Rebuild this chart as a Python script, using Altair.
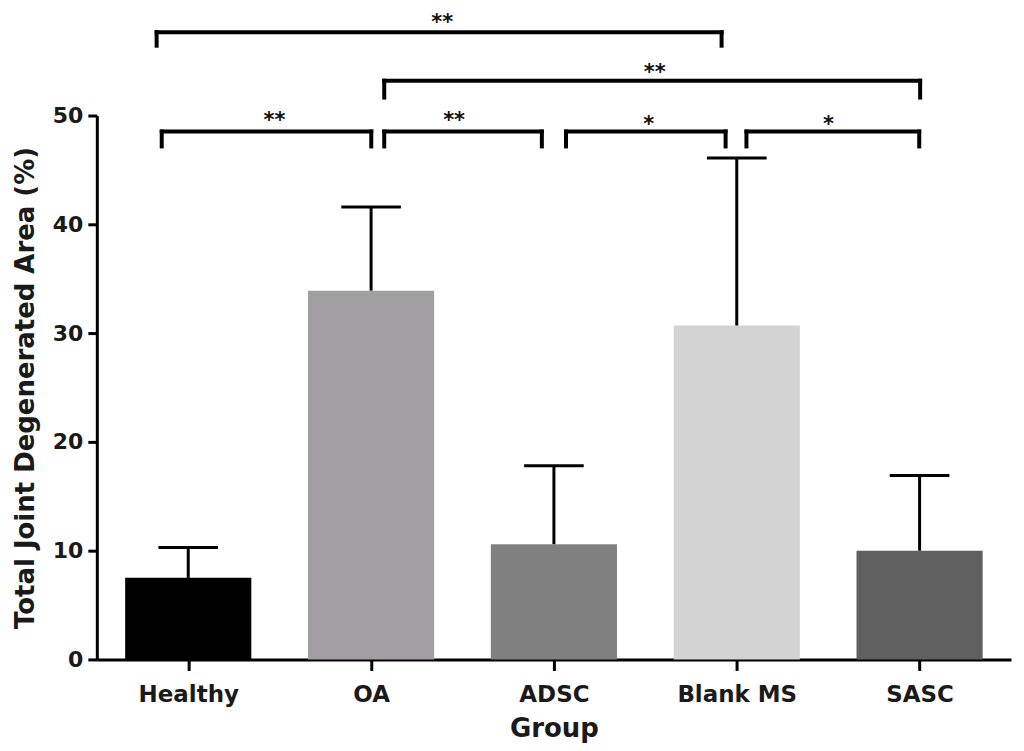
import altair as alt
import pandas as pd

groups = ["Healthy", "OA", "ADSC", "Blank MS", "SASC"]
means = [7.5, 33.9, 10.6, 30.7, 10.0]
err_top = [10.3, 41.6, 17.8, 46.1, 16.9]
colors = ["#000000", "#a29ea3", "#808080", "#d3d3d3", "#606060"]

# significance brackets: start, end (in group-axis units), level, tick bottom
br_x1 = [0.355, 1.572, 2.566, 3.553, 0.327, 1.572]
br_x2 = [1.501, 2.434, 3.439, 4.498, 3.417, 4.503]
br_level = [48.53, 48.53, 48.53, 48.53, 57.66, 53.2]
br_bottom = [47.16, 47.16, 47.16, 47.16, 56.42, 51.65]
br_label = ["**", "**", "*", "*", "**", "**"]
lab_x = [0.972, 1.954, 3.019, 4.001, 1.889, 3.051]
lab_y = [50.0, 50.0, 49.63, 49.63, 59.0, 54.4]

BAR_HALF = 0.345
CAP_HALF = 0.163

bars_df = pd.DataFrame({
    "group": groups,
    "mean": means,
    "err": err_top,
    "zero": [0] * len(groups),
    "xl": [i + 0.5 - BAR_HALF for i in range(len(groups))],
    "xr": [i + 0.5 + BAR_HALF for i in range(len(groups))],
    "xc": [i + 0.5 for i in range(len(groups))],
    "cl": [i + 0.5 - CAP_HALF for i in range(len(groups))],
    "cr": [i + 0.5 + CAP_HALF for i in range(len(groups))],
})

seg_rows = []
for a, b, lv, bt in zip(br_x1, br_x2, br_level, br_bottom):
    seg_rows.append({"x": a, "x2": b, "y": lv, "y2": lv})
    seg_rows.append({"x": a, "x2": a, "y": lv, "y2": bt})
    seg_rows.append({"x": b, "x2": b, "y": lv, "y2": bt})
seg_df = pd.DataFrame(seg_rows)
lab_df = pd.DataFrame({"x": lab_x, "y": lab_y, "t": br_label})

label_expr = "[" + ",".join("'" + g + "'" for g in groups) + "][floor(datum.value)]"

xscale = alt.Scale(domain=[0, 5], nice=False, zero=False)
yscale = alt.Scale(domain=[0, 50], nice=False)

xaxis = alt.Axis(values=[i + 0.5 for i in range(len(groups))], labelExpr=label_expr,
                 title="Group", grid=False, tickSize=11, labelPadding=13, titlePadding=9,
                 labelFontSize=23, titleFontSize=26)
yaxis = alt.Axis(values=[0, 10, 20, 30, 40, 50], title="Total Joint Degenerated Area (%)",
                 grid=False, tickSize=9, labelPadding=5, titlePadding=14,
                 labelFontSize=22, titleFontSize=26)

base = alt.Chart(bars_df)

bars = base.mark_rect().encode(
    x=alt.X("xl:Q", scale=xscale, axis=xaxis),
    x2="xr:Q",
    y=alt.Y("mean:Q", scale=yscale, axis=yaxis),
    y2="zero:Q",
    color=alt.Color("group:N", scale=alt.Scale(domain=groups, range=colors), legend=None),
)

err_line = base.mark_rule(color="#000000", strokeWidth=3).encode(
    x="xc:Q", y="mean:Q", y2="err:Q"
)
err_cap = base.mark_rule(color="#000000", strokeWidth=3).encode(
    x="cl:Q", x2="cr:Q", y="err:Q"
)

brackets = alt.Chart(seg_df).mark_rule(color="#000000", strokeWidth=4, strokeCap="square").encode(
    x="x:Q", x2="x2:Q", y="y:Q", y2="y2:Q"
)

stars = alt.Chart(lab_df).mark_text(
    font="DejaVu Sans", fontWeight="bold", fontSize=21, color="#111111",
    baseline="alphabetic", dy=11
).encode(x="x:Q", y="y:Q", text="t:N")

chart = alt.layer(bars, err_line, err_cap, brackets, stars).properties(
    width=916, height=545,
    autosize=alt.AutoSizeParams(type="none"),
    padding={"left": 89, "top": 107, "right": 5, "bottom": 90},
).configure_view(stroke=None).configure_axis(
    domainColor="#000000", domainWidth=3, tickColor="#000000", tickWidth=3,
    labelFont="DejaVu Sans", labelFontWeight="bold", labelColor="#1a1a1a",
    titleFont="DejaVu Sans", titleFontWeight="bold", titleColor="#1a1a1a",
)

chart.save("out.html", embed_options={"renderer": "svg", "actions": False})
